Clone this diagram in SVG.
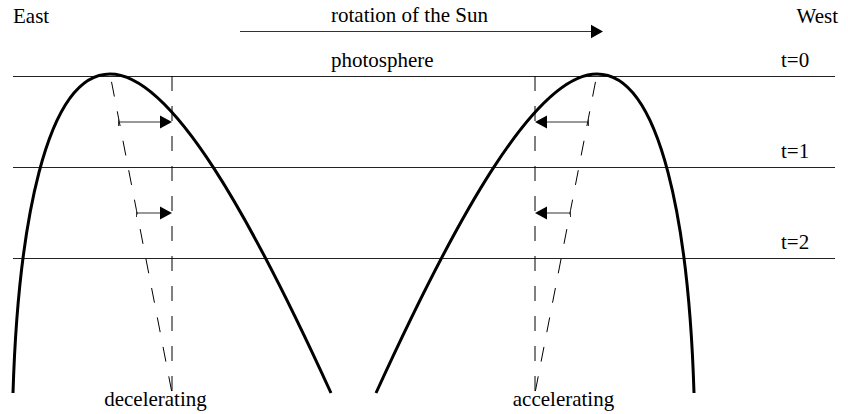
<svg xmlns="http://www.w3.org/2000/svg" width="848" height="414" viewBox="0 0 848 414">
<defs>
<style>
text{font-family:"Liberation Serif","Times New Roman",serif;font-size:21px;fill:#000}
.hl{stroke:#222;stroke-width:1;fill:none}
.curve{stroke:#000;stroke-width:3;fill:none}
.vd{stroke:#000;stroke-width:1;stroke-dasharray:15 15;fill:none}
.sd{stroke:#000;stroke-width:1;stroke-dasharray:15 15;stroke-dashoffset:22;fill:none}
.shaft{stroke:#333;stroke-width:1;fill:none}
.head{fill:#000;stroke:none}
</style>
</defs>
<rect width="848" height="414" fill="#fff"/>
<g id="labels">
<text x="13" y="23">East</text>
<text x="331" y="22">rotation of the Sun</text>
<text x="838" y="23" text-anchor="end">West</text>
<text x="331" y="67">photosphere</text>
<text x="781" y="67">t=0</text>
<text x="781" y="158">t=1</text>
<text x="781" y="249">t=2</text>
<text x="155.5" y="406" text-anchor="middle">decelerating</text>
<text x="563.5" y="406" text-anchor="middle">accelerating</text>
</g>
<g id="time-lines">
<line class="hl" x1="13" y1="76.5" x2="835" y2="76.5"/>
<line class="hl" x1="13" y1="167.5" x2="835" y2="167.5"/>
<line class="hl" x1="13" y1="258.5" x2="835" y2="258.5"/>
</g>
<g id="left-loop">
<path class="curve" d="M13,393 C18,230 45,74 110,74 C172,74 252,220 331,393"/>
<line class="sd" x1="110" y1="74" x2="172" y2="393"/>
<line class="vd" x1="172" y1="76" x2="172" y2="393"/>
</g>
<g id="right-loop">
<path class="curve" d="M694,393 C689,230 662,74 597,74 C535,74 455,220 376,393"/>
<line class="sd" x1="597" y1="74" x2="535" y2="393"/>
<line class="vd" x1="535" y1="76" x2="535" y2="393"/>
</g>
<g id="connectors">
<line class="shaft" x1="240" y1="31.5" x2="592" y2="31.5"/>
<polygon class="head" points="591,24.8 603,31.5 591,38.2"/>
<line class="shaft" x1="118.5" y1="122" x2="161" y2="122"/>
<line class="shaft" x1="118.5" y1="118" x2="118.5" y2="126"/>
<polygon class="head" points="160,115.5 172,122 160,128.5"/>
<line class="shaft" x1="136.5" y1="213" x2="161" y2="213"/>
<line class="shaft" x1="136.5" y1="209" x2="136.5" y2="217"/>
<polygon class="head" points="160,206.5 172,213 160,219.5"/>
<line class="shaft" x1="588.5" y1="122" x2="546" y2="122"/>
<line class="shaft" x1="588.5" y1="118" x2="588.5" y2="126"/>
<polygon class="head" points="547,115.5 535,122 547,128.5"/>
<line class="shaft" x1="570.5" y1="213" x2="546" y2="213"/>
<line class="shaft" x1="570.5" y1="209" x2="570.5" y2="217"/>
<polygon class="head" points="547,206.5 535,213 547,219.5"/>
</g>
</svg>
